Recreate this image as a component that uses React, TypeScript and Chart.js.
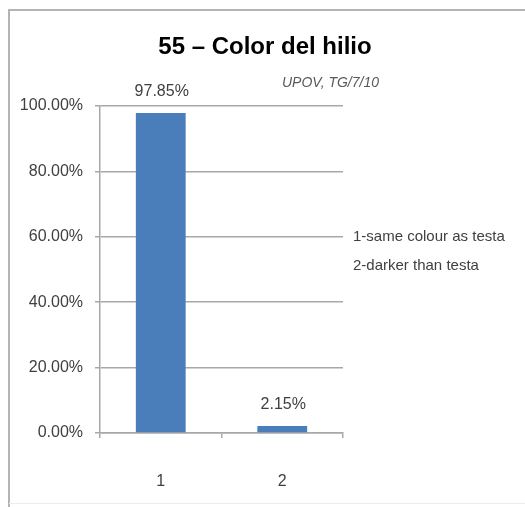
import React, { useEffect, useRef } from "react";
import { Chart, registerables } from "chart.js";

Chart.register(...registerables);

const categories = ["1", "2"];
const values = [0.9785, 0.0215];
const valueLabels = ["97.85%", "2.15%"];
const legendLines = ["1-same colour as testa", "2-darker than testa"];
const titleText = "55 \u2013 Color del hilio";
const sourceText = "UPOV, TG/7/10";

const FONT = "'Liberation Sans', Arial, sans-serif";

const decorPlugin = {
  id: "decor",
  beforeDraw(chart: any) {
    const ctx = chart.ctx;
    ctx.save();
    ctx.fillStyle = "#ffffff";
    ctx.fillRect(0, 0, chart.width, chart.height);
    ctx.strokeStyle = "#b4b4b4";
    ctx.lineWidth = 2;
    ctx.beginPath();
    ctx.moveTo(9, chart.height);
    ctx.lineTo(9, 10);
    ctx.lineTo(chart.width, 10);
    ctx.stroke();
    ctx.strokeStyle = "#ececec";
    ctx.lineWidth = 1;
    ctx.beginPath();
    ctx.moveTo(9, 503.5);
    ctx.lineTo(chart.width, 503.5);
    ctx.stroke();
    ctx.restore();
  },
  afterDatasetsDraw(chart: any) {
    const ctx = chart.ctx;
    ctx.save();
    // title
    ctx.fillStyle = "#000000";
    ctx.font = `bold 24px ${FONT}`;
    ctx.textAlign = "center";
    ctx.textBaseline = "alphabetic";
    ctx.fillText(titleText, 265, 54);
    // source
    ctx.fillStyle = "#5a5a5a";
    ctx.font = `italic 14px ${FONT}`;
    ctx.textAlign = "left";
    ctx.textBaseline = "middle";
    ctx.fillText(sourceText, 282, 83);
    // legend text
    ctx.fillStyle = "#404040";
    ctx.font = `15px ${FONT}`;
    legendLines.forEach((t, i) => {
      ctx.fillText(t, 353, 237 + i * 29);
    });
    // data labels
    const meta = chart.getDatasetMeta(0);
    ctx.font = `16px ${FONT}`;
    ctx.textAlign = "center";
    ctx.textBaseline = "middle";
    meta.data.forEach((el: any, i: number) => {
      ctx.fillText(valueLabels[i], el.x + 1, el.y - 21);
    });
    ctx.restore();
  },
};

export default function App() {
  const ref = useRef<HTMLCanvasElement | null>(null);
  useEffect(() => {
    if (!ref.current) return;
    const chart = new Chart(ref.current, {
      type: "bar",
      data: {
        labels: categories,
        datasets: [
          {
            data: values,
            backgroundColor: "#4a7ebb",
            borderColor: "#4577b3",
            borderWidth: 0,
            barPercentage: 0.82,
            categoryPercentage: 0.5,
          },
        ],
      },
      options: {
        animation: false,
        responsive: false,
        devicePixelRatio: 1,
        layout: { padding: { left: 0, right: 182, top: 106, bottom: 0 } },
        plugins: {
          legend: { display: false },
          title: { display: false },
          tooltip: { enabled: false },
        },
        scales: {
          y: {
            min: 0,
            max: 1,
            afterFit: (s: any) => {
              s.width = 100;
            },
            ticks: {
              stepSize: 0.2,
              padding: 12,
              color: "#404040",
              font: { family: FONT, size: 16 },
              callback: (v: any) => (Number(v) * 100).toFixed(2) + "%",
            },
            grid: { color: "#a8a8a8", lineWidth: 1.5, tickLength: 5 },
            border: { color: "#a8a8a8", width: 1.5 },
          },
          x: {
            afterFit: (s: any) => {
              s.height = 74;
            },
            ticks: {
              padding: 34,
              color: "#404040",
              font: { family: FONT, size: 16 },
            },
            grid: {
              offset: true,
              drawOnChartArea: false,
              color: "#a8a8a8",
              lineWidth: 1.5,
              tickLength: 5,
            },
            border: { color: "#a8a8a8", width: 1.5 },
          },
        },
      },
      plugins: [decorPlugin],
    });
    return () => chart.destroy();
  }, []);
  return (
    <div style={{ position: "absolute", left: 0, top: 0, width: 525, height: 507 }}>
      <canvas ref={ref} width={525} height={507} style={{ width: 525, height: 507 }} />
    </div>
  );
}
